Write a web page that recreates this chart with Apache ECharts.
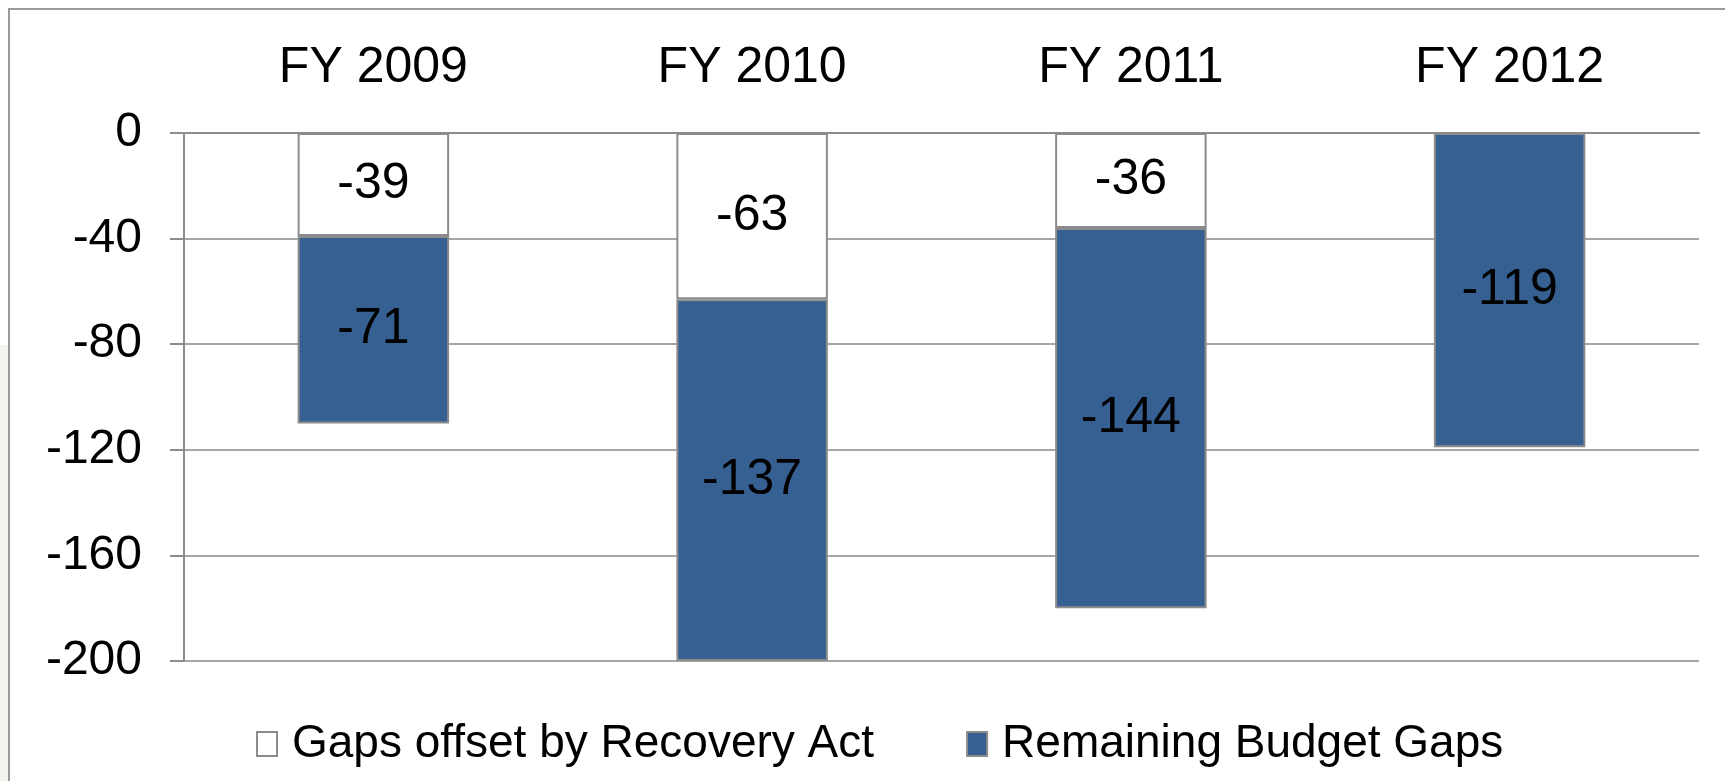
<!DOCTYPE html>
<html>
<head>
<meta charset="utf-8">
<script src="https://cdn.jsdelivr.net/npm/echarts@6/dist/echarts.min.js"></script>
<style>
  html, body { margin: 0; padding: 0; background: #fff; }
  #chart { width: 1725px; height: 781px; }
</style>
</head>
<body>
<div id="chart"></div>
<script>
  var years = ['FY 2009', 'FY 2010', 'FY 2011', 'FY 2012'];
  var offsetGaps = [-39, -63, -36, 0];
  var remainingGaps = [-71, -137, -144, -119];
  var yTicks = [0, -40, -80, -120, -160, -200];

  var font = 'Liberation Sans, Arial, sans-serif';
  var borderGray = '#8c8c8c';

  var myChart = echarts.init(document.getElementById('chart'));
  myChart.setOption({
    animation: false,
    graphic: [
      {
        type: 'rect',
        shape: { x: 0, y: 345, width: 8, height: 440 },
        style: { fill: '#f4f3ef' },
        z: -2
      },
      {
        type: 'rect',
        shape: { x: 9, y: 9, width: 1740, height: 800 },
        style: { fill: 'none', stroke: '#9a9a9a', lineWidth: 2 },
        z: -1
      }
    ],
    grid: { left: 184, right: 26, top: 133, bottom: 120 },
    legend: {
      left: 251,
      top: 716,
      icon: 'rect',
      itemWidth: 20,
      itemHeight: 24,
      itemGap: 92,
      textStyle: { fontFamily: font, fontSize: 46, color: '#000', padding: [0, 0, 0, 10] },
      data: [
        { name: 'Gaps offset by Recovery Act', itemStyle: { color: '#fff', borderColor: borderGray, borderWidth: 2 } },
        { name: 'Remaining Budget Gaps', itemStyle: { color: '#366092', borderColor: borderGray, borderWidth: 2 } }
      ]
    },
    xAxis: {
      type: 'category',
      position: 'top',
      data: years,
      axisLine: { lineStyle: { color: borderGray, width: 2 } },
      axisTick: { inside: true, length: 14, lineStyle: { color: borderGray, width: 2 } },
      axisLabel: { fontFamily: font, fontSize: 50, color: '#000', margin: 40 }
    },
    yAxis: {
      type: 'value',
      min: -200,
      max: 0,
      interval: 40,
      axisLine: { show: true, lineStyle: { color: borderGray, width: 2 } },
      axisTick: { show: true, length: 14, lineStyle: { color: borderGray, width: 2 } },
      axisLabel: {
        fontFamily: font, fontSize: 48, color: '#000', margin: 42,
        formatter: function (v) { return yTicks.indexOf(v) >= 0 ? String(v) : ''; }
      },
      splitLine: { lineStyle: { color: '#a6a6a6', width: 2 } }
    },
    series: [
      {
        name: 'Gaps offset by Recovery Act',
        type: 'bar',
        stack: 'gap',
        barWidth: '40%',
        data: offsetGaps,
        itemStyle: { color: '#fff', borderColor: borderGray, borderWidth: 2 },
        label: {
          show: true, position: 'inside', fontFamily: font, fontSize: 50, color: '#000',
          formatter: function (p) { return p.value === 0 ? '' : String(p.value); }
        }
      },
      {
        name: 'Remaining Budget Gaps',
        type: 'bar',
        stack: 'gap',
        barWidth: '40%',
        data: remainingGaps,
        itemStyle: { color: '#366092', borderColor: borderGray, borderWidth: 2 },
        label: {
          show: true, position: 'inside', fontFamily: font, fontSize: 50, color: '#000'
        }
      }
    ]
  });
</script>
</body>
</html>
